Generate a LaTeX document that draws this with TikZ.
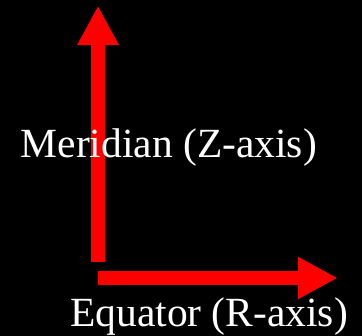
\documentclass[tikz,border=0pt]{standalone}
\usepackage{fontspec}
\setmainfont{Liberation Serif}
\usetikzlibrary{arrows.meta}
\begin{document}
\begin{tikzpicture}[x=1pt,y=1pt,
  axisarrow/.style={draw=red, line width=14pt, line cap=butt, -{Triangle[width=39pt,length=39.5pt]}},
  axislabel/.style={text=white, inner sep=0pt, anchor=base west, font=\fontsize{41.5}{48}\selectfont}]
\fill[black] (0,0) rectangle (362,336);
\useasboundingbox (0,0) rectangle (362,336);
\coordinate (origin) at (98,74.3);
\coordinate (ztip) at (98,330.3);
\coordinate (rstart) at (97.7,58);
\coordinate (rtip) at (337.7,58);
\draw[axisarrow] (origin) -- (ztip);
\draw[axisarrow] (rstart) -- (rtip);
\node[axislabel] (zlabel) at (20.5,178) {Meridian (Z-axis)};
\node[axislabel] (rlabel) at (70,9.3) {Equator (R-axis)};
\end{tikzpicture}
\end{document}
